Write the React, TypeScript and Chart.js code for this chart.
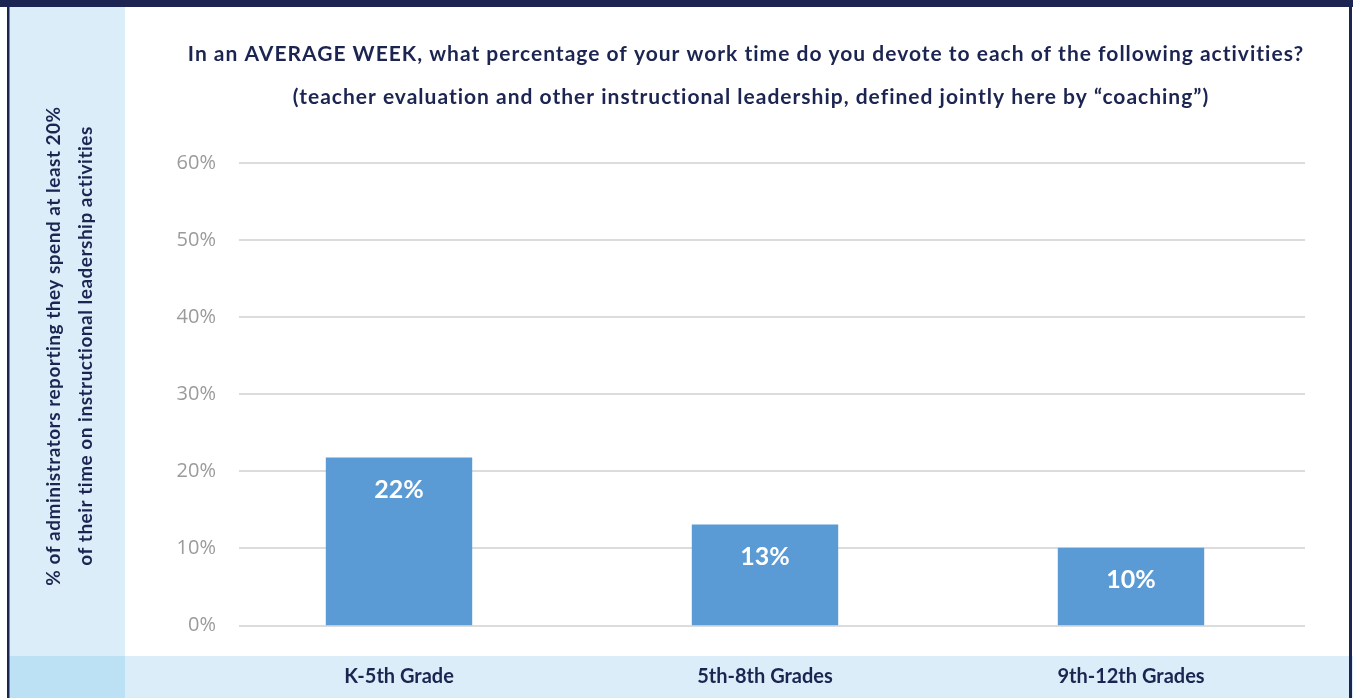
import React, { useEffect, useRef } from "react";
import { Chart, registerables } from "chart.js";

Chart.register(...registerables);

const categories = ["K-5th Grade", "5th-8th Grades", "9th-12th Grades"];
const values = [21.8, 13.1, 10.1];
const yTicks = [0, 10, 20, 30, 40, 50, 60];
const titleLines = [
  "In an AVERAGE WEEK, what percentage of your work time do you devote to each of the following activities?",
  "(teacher evaluation and other instructional leadership, defined jointly here by \u201Ccoaching\u201D)",
];
const yTitleLines = [
  "% of administrators reporting they spend at least 20%",
  "of their time on instructional leadership activities",
];

const NAVY = "#1c2551";
const LIGHT = "#daedf8";
const BAR = "#5b9bd5";
const FONT = "Lato, 'Open Sans', sans-serif";

const decorPlugin = {
  id: "decor",
  beforeDraw(chart: any) {
    const { ctx, width, height } = chart;
    ctx.save();
    ctx.fillStyle = "#ffffff";
    ctx.fillRect(0, 0, width, height);
    // left light column
    ctx.fillStyle = LIGHT;
    ctx.fillRect(9, 7, 116, height - 7);
    // bottom band
    ctx.fillRect(9, 656, width - 9, height - 656);
    // corner cell
    ctx.fillStyle = "#bde1f4";
    ctx.fillRect(9, 656, 116, height - 656);
    // navy frame
    ctx.fillStyle = NAVY;
    ctx.fillRect(0, 0, width, 7);
    ctx.fillRect(7, 0, 2.5, height);
    ctx.fillRect(1349, 0, 3, height);
    ctx.restore();
  },
  beforeDatasetsDraw(chart: any) {
    const { ctx } = chart;
    const y = chart.scales.y;
    ctx.save();
    ctx.strokeStyle = "#dcdcdc";
    ctx.lineWidth = 2;
    yTicks.forEach((t) => {
      const py = Math.round(y.getPixelForValue(t));
      ctx.beginPath();
      ctx.moveTo(239, py);
      ctx.lineTo(1305, py);
      ctx.stroke();
    });
    ctx.restore();
  },
  afterDatasetsDraw(chart: any) {
    const { ctx } = chart;
    const meta = chart.getDatasetMeta(0);
    ctx.save();
    ctx.fillStyle = "#ffffff";
    ctx.font = `bold 25px ${FONT}`;
    ctx.textAlign = "center";
    ctx.textBaseline = "middle";
    meta.data.forEach((bar: any, i: number) => {
      ctx.fillText(Math.round(values[i]) + "%", bar.x, bar.y + 32);
    });
    ctx.restore();
  },
  afterDraw(chart: any) {
    const { ctx } = chart;
    ctx.save();
    ctx.fillStyle = NAVY;
    ctx.textAlign = "center";
    ctx.textBaseline = "middle";
    ctx.font = `bold 21px ${FONT}`;
    (ctx as any).letterSpacing = "1px";
    ctx.fillText(titleLines[0], 746, 54);
    ctx.fillText(titleLines[1], 751, 97);
    ctx.font = `bold 19px ${FONT}`;
    (ctx as any).letterSpacing = "0.5px";
    ctx.save();
    ctx.translate(54, 346);
    ctx.rotate(-Math.PI / 2);
    ctx.fillText(yTitleLines[0], 0, 0);
    ctx.restore();
    ctx.save();
    ctx.translate(86, 346);
    ctx.rotate(-Math.PI / 2);
    ctx.fillText(yTitleLines[1], 0, 0);
    ctx.restore();
    (ctx as any).letterSpacing = "0px";
    ctx.restore();
  },
};

export default function App() {
  const ref = useRef<HTMLCanvasElement | null>(null);
  useEffect(() => {
    document.body.style.margin = "0";
    const canvas = ref.current;
    if (!canvas) return;
    const chart = new Chart(canvas, {
      type: "bar",
      data: {
        labels: categories,
        datasets: [
          {
            data: values,
            backgroundColor: BAR,
            borderWidth: 0,
            barPercentage: 0.4,
            categoryPercentage: 1,
          },
        ],
      },
      options: {
        responsive: false,
        animation: false,
        devicePixelRatio: 1,
        layout: { padding: { top: 163, right: 39, left: 0, bottom: 0 } },
        plugins: {
          legend: { display: false },
          title: { display: false },
          tooltip: { enabled: false },
        },
        scales: {
          x: {
            grid: { display: false, drawTicks: false },
            border: { display: false },
            ticks: {
              color: NAVY,
              font: { family: FONT, size: 20, weight: "bold" },
              padding: 39,
              maxRotation: 0,
            },
            afterFit(scale: any) {
              scale.height = 72.5;
            },
          },
          y: {
            min: 0,
            max: 60,
            grid: { display: false, drawTicks: false },
            border: { display: false },
            afterBuildTicks(scale: any) {
              scale.ticks = yTicks.map((v) => ({ value: v }));
            },
            ticks: {
              color: "#9b9b9b",
              font: { family: "'Open Sans', sans-serif", size: 20 },
              padding: 0,
              callback: (v: any) => v + "%",
            },
            afterFit(scale: any) {
              scale.width = 216;
            },
          },
        },
      },
      plugins: [decorPlugin],
    });
    return () => chart.destroy();
  }, []);
  return (
    <div style={{ position: "fixed", left: 0, top: 0, width: 1353, height: 698 }}>
      <canvas ref={ref} width={1353} height={698} style={{ width: 1353, height: 698 }} />
    </div>
  );
}
